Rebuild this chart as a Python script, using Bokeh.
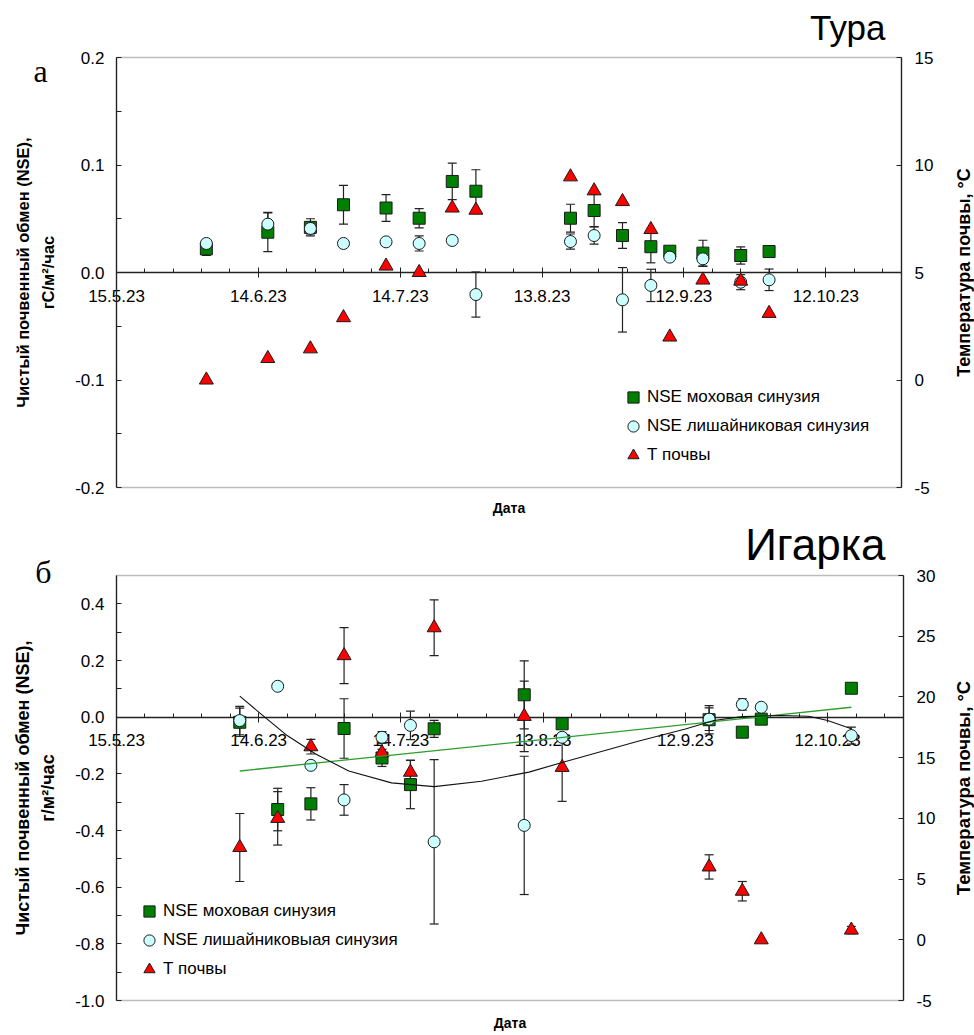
import math
import pandas as pd
from bokeh.plotting import figure
from bokeh.core.properties import value
from bokeh.models import (Range1d, LinearAxis, FixedTicker, PrintfTickFormatter,
                          ColumnDataSource, Whisker, TeeHead, Legend, LegendItem,
                          Label, LabelSet, BoxAnnotation)
from bokeh.layouts import column
from bokeh.embed import file_html
from bokeh.resources import INLINE

FONT = "Liberation Sans"
ORIGIN = "2023-05-15"
X_MAX_DATE = "2023-10-28"
tick_dates = ["2023-05-15", "2023-06-14", "2023-07-14", "2023-08-13", "2023-09-12", "2023-10-12"]
tick_labels = ["15.5.23", "14.6.23", "14.7.23", "13.8.23", "12.9.23", "12.10.23"]

# ---------------- Тура ----------------
tura_dates = ["2023-06-03", "2023-06-16", "2023-06-25", "2023-07-02", "2023-07-11", "2023-07-18",
              "2023-07-25", "2023-07-30", "2023-08-19", "2023-08-24", "2023-08-30", "2023-09-05",
              "2023-09-09", "2023-09-16", "2023-09-24", "2023-09-30"]
tura_moss = [0.022, 0.0375, 0.042, 0.063, 0.060, 0.0505, 0.0847, 0.0756, 0.0505, 0.0577,
             0.0344, 0.024, 0.0198, 0.018, 0.0158, 0.0195]
tura_moss_err = [0.006, 0.018, 0.008, 0.018, 0.0125, 0.009, 0.017, 0.02, 0.013, 0.015,
                 0.012, 0.015, 0.003, 0.012, 0.008, 0.005]
tura_lichen = [0.027, 0.045, 0.041, 0.027, 0.0285, 0.027, 0.0298, -0.0205, 0.0288, 0.0344,
               -0.0254, -0.012, 0.0143, 0.0127, -0.009, -0.0068]
tura_lichen_err = [0.003, 0.011, 0.005, 0.0, 0.0, 0.007, 0.0, 0.021, 0.007, 0.008,
                   0.030, 0.015, 0.0, 0.007, 0.007, 0.01]
tura_temp = [0.0, 1.0, 1.45, 2.9, 5.3, 5.0, 8.0, 7.9, 9.45, 8.8, 8.3, 7.0, 2.0, 4.65, 4.6, 3.1]

# ---------------- Игарка ----------------
igarka_dates = ["2023-06-10", "2023-06-18", "2023-06-25", "2023-07-02", "2023-07-10", "2023-07-16",
                "2023-07-21", "2023-08-09", "2023-08-17", "2023-09-17", "2023-09-24", "2023-09-28",
                "2023-10-17"]
igarka_moss = [-0.018, -0.326, -0.306, -0.04, -0.144, -0.238, -0.041, 0.079, -0.0235, -0.009,
               -0.053, -0.007, 0.102]
igarka_moss_err = [0.05, 0.075, 0.057, 0.105, 0.03, 0.085, 0.03, 0.12, 0.012, 0.05, 0.0, 0.0, 0.015]
igarka_lichen = [-0.012, 0.109, -0.170, -0.292, -0.071, -0.029, -0.44, -0.382, -0.071, -0.007,
                 0.045, 0.035, -0.065]
igarka_lichen_err = [0.05, 0.0, 0.0, 0.054, 0.02, 0.05, 0.29, 0.244, 0.0, 0.04, 0.02, 0.0, 0.03]
igarka_temp = [7.6, 10.0, 15.9, 23.4, 15.4, 13.8, 25.7, 18.4, 14.2, 6.0, 4.0, 0.0, 0.8]
igarka_temp_err = [2.8, 2.2, 0.6, 2.3, 0.8, 1.0, 2.3, 2.9, 2.8, 1.0, 0.8, 0.0, 0.3]

# trend lines (Игарка)
lichen_trend_dates = ["2023-06-10", "2023-06-14", "2023-06-20", "2023-06-26", "2023-07-03",
                      "2023-07-12", "2023-07-21", "2023-07-31", "2023-08-10", "2023-08-17",
                      "2023-09-02", "2023-09-12", "2023-09-18", "2023-09-24", "2023-10-02",
                      "2023-10-08", "2023-10-12", "2023-10-17"]
lichen_trend = [0.074, 0.018, -0.065, -0.130, -0.190, -0.232, -0.245, -0.226, -0.194, -0.160,
                -0.085, -0.042, -0.012, 0.002, 0.006, 0.003, -0.012, -0.041]
moss_trend_dates = ["2023-06-10", "2023-10-17"]
moss_trend = [-0.19, 0.035]

W = 974
INK = "#222222"


def days(lst):
    return [float(v) for v in (pd.to_datetime(lst) - pd.Timestamp(ORIGIN)).days]


def style_axis(ax):
    ax.axis_line_color = INK
    ax.axis_line_width = 1.3
    ax.major_tick_line_color = INK
    ax.minor_tick_line_color = INK
    ax.major_tick_in = 5
    ax.major_tick_out = 0
    ax.minor_tick_in = 5
    ax.minor_tick_out = 0
    ax.major_label_text_font = FONT
    ax.major_label_text_font_size = "17px"
    ax.major_label_text_color = "black"


def whisker(p, x, y, err, range_name="default"):
    xs, lo, hi = [], [], []
    for a, b, e in zip(x, y, err):
        if e > 0:
            xs.append(a)
            lo.append(b - e)
            hi.append(b + e)
    src = ColumnDataSource(dict(base=xs, lower=lo, upper=hi))
    p.add_layout(Whisker(source=src, base="base", lower="lower", upper="upper",
                         dimension="height", line_color=INK, line_width=1.2,
                         upper_head=TeeHead(size=9, line_color=INK, line_width=1.2),
                         lower_head=TeeHead(size=9, line_color=INK, line_width=1.2),
                         level="underlay", y_range_name=range_name))


def text(p, x, y, s, size, bold=False, angle=0.0, font=FONT, align="center",
         baseline="middle"):
    p.add_layout(Label(x=x, y=y, x_units="screen", y_units="screen", text=s,
                       text_font=font, text_font_size=size,
                       text_font_style="bold" if bold else "normal", angle=angle,
                       text_align=align, text_baseline=baseline, text_color="black"))


def build(H, box, title, title_size, title_base, letter, letter_pos,
          dates, moss, moss_err, lichen, lichen_err, temp, temp_err,
          yr, tr, yticks, yminor, tticks, ylabel1, ylabel2, ylab_size, rlab_size,
          lichen_label, legend_loc, xlab_y):
    L, R, T, B = box  # plot box in canvas pixels (from top-left)
    xd = days(dates)
    x0, x1 = 0.0, days([X_MAX_DATE])[0]
    pxd = (R - L) / (x1 - x0)
    pyv = (B - T) / (yr[1] - yr[0])
    pyt = (B - T) / (tr[1] - tr[0])
    p = figure(width=W, height=H, output_backend="svg", toolbar_location=None,
               x_range=Range1d(x0 - L / pxd, x1 + (W - R) / pxd),
               y_range=Range1d(yr[0] - (H - B) / pyv, yr[1] + T / pyv),
               min_border=0, background_fill_color="white", border_fill_color="white")
    p.outline_line_color = None
    p.grid.visible = False
    p.extra_y_ranges = {"temp": Range1d(tr[0] - (H - B) / pyt, tr[1] + T / pyt)}

    # plot box
    p.add_layout(BoxAnnotation(left=x0, right=x1, bottom=yr[0], top=yr[1], fill_alpha=0,
                               line_color=INK, line_width=1.3, level="underlay"))

    # date axis crossing at NSE = 0
    xa = p.xaxis[0]
    style_axis(xa)
    xa.fixed_location = 0
    xa.bounds = (x0, x1)
    xa.level = "underlay"
    tk = days(tick_dates)
    xa.ticker = FixedTicker(ticks=tk, minor_ticks=[float(v) for v in range(6, int(x1) + 1, 6)])
    xa.major_label_text_color = None
    xa.major_tick_out = 5
    xa.minor_tick_in = 4
    lbl_src = ColumnDataSource(dict(x=tk, y=[0.0] * len(tk), text=tick_labels))
    p.add_layout(LabelSet(x="x", y="y", text="text", source=lbl_src, y_offset=-17,
                          text_align="center", text_baseline="top", text_font=value(FONT),
                          text_font_size="17px", text_color="black", level="underlay"))

    ya = p.yaxis[0]
    style_axis(ya)
    ya.fixed_location = x0
    ya.bounds = yr
    ya.ticker = FixedTicker(ticks=yticks, minor_ticks=yminor)
    ya.formatter = PrintfTickFormatter(format="%.1f")
    ya.major_label_standoff = 12

    ra = LinearAxis(y_range_name="temp", ticker=FixedTicker(ticks=tticks),
                    formatter=PrintfTickFormatter(format="%d"), fixed_location=x1,
                    bounds=tr)
    style_axis(ra)
    ra.major_label_standoff = 13
    p.add_layout(ra, "right")

    # texts (screen coords measured from bottom-left of the canvas)
    mid = H - (T + B) / 2
    text(p, 22, mid, ylabel1, ylab_size, bold=True, angle=math.pi / 2)
    text(p, 47, mid, ylabel2, ylab_size, bold=True, angle=math.pi / 2)
    text(p, 963, mid, "Температура почвы, °C", rlab_size, bold=True, angle=math.pi / 2)
    text(p, (L + R) / 2, xlab_y, "Дата", "14px", bold=True)
    text(p, 885, H - title_base, title, title_size, align="right", baseline="alphabetic")
    text(p, letter_pos[0], H - letter_pos[1], letter, "32px", font="Liberation Serif",
         baseline="alphabetic")

    whisker(p, xd, moss, moss_err)
    whisker(p, xd, lichen, lichen_err)
    if temp_err is not None:
        whisker(p, xd, temp, temp_err, "temp")

    r1 = p.scatter(xd, moss, marker="square", size=12, fill_color="#008000",
                   line_color="#1a1a1a", line_width=1)
    r2 = p.scatter(xd, lichen, marker="circle", size=12, fill_color="#CCFFFF",
                   line_color="#1a1a1a", line_width=1)
    r3 = p.scatter(xd, temp, marker="triangle", size=14, fill_color="#FF0000",
                   line_color="#1a1a1a", line_width=1, y_range_name="temp")

    legend = Legend(items=[LegendItem(label="NSE моховая синузия", renderers=[r1]),
                           LegendItem(label=lichen_label, renderers=[r2]),
                           LegendItem(label="Т почвы", renderers=[r3])],
                    location=legend_loc, background_fill_alpha=0, border_line_color=None,
                    label_text_font=FONT, label_text_font_size="17px",
                    label_text_color="black", glyph_width=28,
                    glyph_height=28, label_height=28, spacing=1, padding=0, margin=0,
                    label_standoff=0)
    p.add_layout(legend)
    return p


p1 = build(517, (116, 901, 57, 487), "Тура", "35px", 27, "а", (40, 70),
           tura_dates, tura_moss, tura_moss_err, tura_lichen, tura_lichen_err,
           tura_temp, None, (-0.2, 0.2), (-5, 15),
           [-0.2, -0.1, 0.0, 0.1, 0.2], [-0.15, -0.05, 0.05, 0.15], [-5, 0, 5, 10, 15],
           "Чистый почвенный обмен (NSE),", "гС/м²/час", "16.5px", "18px",
           "NSE лишайниковая синузия", (619, 48), 10)

p2 = build(518, (116, 903, 58, 483), "Игарка", "44px", 27, "б", (43, 54),
           igarka_dates, igarka_moss, igarka_moss_err, igarka_lichen, igarka_lichen_err,
           igarka_temp, igarka_temp_err, (-1.0, 0.5), (-5, 30),
           [-1.0, -0.8, -0.6, -0.4, -0.2, 0.0, 0.2, 0.4],
           [-0.9, -0.7, -0.5, -0.3, -0.1, 0.1, 0.3], [-5, 0, 5, 10, 15, 20, 25, 30],
           "Чистый почвенный обмен (NSE),", "г/м²/час", "18px", "18.5px",
           "NSE лишайниковыая синузия", (135, 52), 13)

p2.line(days(moss_trend_dates), moss_trend, line_color="#2E9E2E", line_width=1.3)
p2.line(days(lichen_trend_dates), lichen_trend, line_color="#111111", line_width=1.1)

layout = column(p1, p2, spacing=0)
open("out.html", "w").write(file_html(layout, INLINE))
